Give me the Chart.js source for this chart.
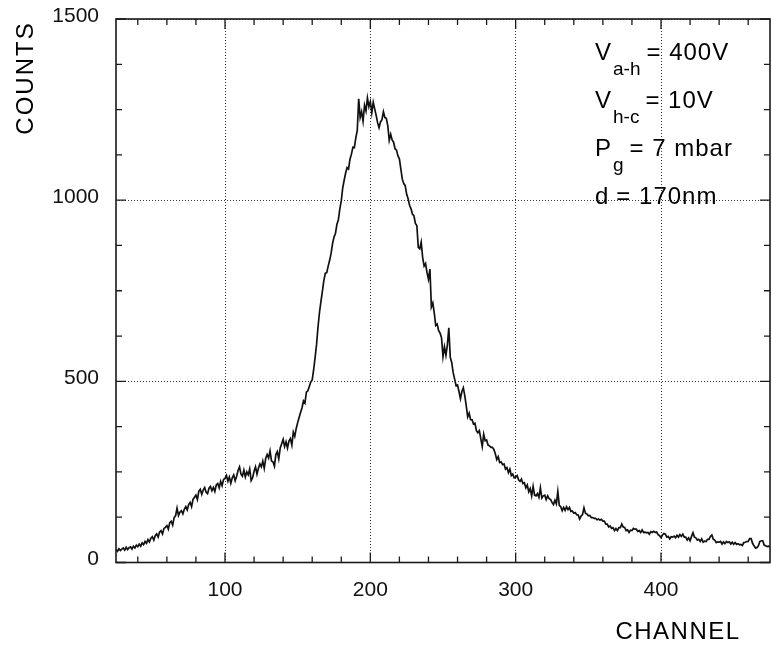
<!DOCTYPE html>
<html>
<head>
<meta charset="utf-8">
<script src="https://cdn.jsdelivr.net/npm/chart.js@4.4.1/dist/chart.umd.min.js"></script>
<style>
  html, body { margin: 0; padding: 0; background: #fff; }
  #wrap { width: 772px; height: 650px; }
</style>
</head>
<body>
<div id="wrap"><canvas id="espectro" width="772" height="650"></canvas></div>
<script>
const primerCanal = 25;
const cuentas = [
  36, 31, 38, 33, 37, 40, 34, 42, 36, 41,
  43, 37, 45, 40, 48, 44, 51, 45, 54, 49,
  58, 53, 63, 57, 67, 71, 62, 74, 79, 70,
  84, 88, 79, 94, 97, 102, 92, 110, 114, 103,
  124, 129, 150, 130, 139, 143, 134, 147, 154, 145,
  160, 166, 154, 174, 180, 186, 174, 197, 202, 188,
  200, 207, 194, 190, 205, 210, 198, 207, 196, 214,
  218, 206, 224, 212, 229, 232, 240, 224, 236, 219,
  234, 242, 226, 238, 254, 264, 244, 238, 255, 236,
  250, 242, 258, 226, 234, 252, 264, 244, 260, 272,
  264, 280, 260, 287, 298, 288, 308, 280, 278, 266,
  298, 306, 286, 316, 328, 340, 320, 333, 316, 335,
  342, 324, 360, 348, 370, 386, 400, 414, 427, 446,
  440, 470, 474, 486, 498, 504, 532, 566, 602, 650,
  690, 720, 748, 778, 798, 800, 818, 834, 853, 880,
  898, 908, 933, 946, 975, 998, 1034, 1055, 1075, 1090,
  1086, 1113, 1127, 1146, 1145, 1172, 1192, 1280, 1228, 1244,
  1218, 1262, 1246, 1282, 1258, 1272, 1241, 1270, 1252, 1234,
  1214, 1200, 1216, 1222, 1244, 1228, 1226, 1206, 1165, 1182,
  1166, 1160, 1142, 1138, 1122, 1114, 1086, 1058, 1046, 1040,
  1016, 1004, 986, 976, 961, 957, 936, 930, 870, 866,
  884, 842, 818, 825, 800, 782, 810, 705, 716, 688,
  654, 658, 640, 633, 620, 568, 595, 572, 600, 648,
  566, 552, 524, 506, 488, 490, 472, 452, 472, 482,
  460, 432, 402, 412, 394, 394, 382, 384, 364, 358,
  364, 342, 320, 354, 336, 338, 324, 322, 318, 318,
  312, 300, 284, 292, 276, 278, 270, 272, 258, 262,
  248, 258, 240, 244, 234, 236, 240, 228, 224, 230,
  218, 220, 206, 214, 195, 204, 184, 210, 186, 184,
  190, 180, 206, 178, 184, 186, 174, 184, 176, 174,
  166, 160, 172, 162, 196, 158, 154, 143, 152, 144,
  154, 146, 152, 141, 142, 136, 138, 132, 131, 120,
  128, 132, 151, 136, 134, 129, 130, 124, 124, 122,
  122, 118, 120, 117, 119, 114, 114, 106, 106, 98,
  101, 94, 96, 88, 94, 88, 96, 96, 106, 98,
  97, 88, 90, 83, 89, 88, 94, 92, 92, 86,
  88, 83, 90, 83, 84, 82, 83, 78, 85, 83,
  86, 83, 84, 77, 74, 69, 76, 80, 78, 70,
  72, 65, 71, 70, 73, 68, 75, 70, 77, 72,
  78, 70, 70, 62, 68, 60, 72, 82, 70, 68,
  62, 64, 58, 65, 56, 59, 58, 64, 64, 72,
  76, 64, 62, 55, 57, 56, 58, 51, 57, 52,
  58, 55, 57, 51, 56, 50, 55, 50, 52, 49,
  50, 47, 55, 56, 58, 58, 66, 66, 53, 46,
  40, 41, 46, 58, 60, 60, 48, 46, 44, 45,
  43
];
const ticksX = [100, 200, 300, 400];
const ticksY = [0, 500, 1000, 1500];
const menoresX = [40, 60, 80, 120, 140, 160, 180, 220, 240, 260, 280, 320, 340, 360, 380, 420, 440, 460];
const menoresY = [125, 250, 375, 625, 750, 875, 1125, 1250, 1375];
const etiquetaX = 'CHANNEL';
const etiquetaY = 'COUNTS';
const anotaciones = [
  { base: 'V', sub: 'a-h', resto: '= 400V' },
  { base: 'V', sub: 'h-c', resto: '= 10V' },
  { base: 'P', sub: 'g', resto: '= 7 mbar' },
  { base: 'd', sub: '', resto: '= 170nm' }
];

const fuente = "'Liberation Sans', Arial, sans-serif";

const marco = {
  id: 'marco',
  afterDraw(chart) {
    const { ctx, chartArea: a, scales: { x, y } } = chart;
    ctx.save();
    ctx.strokeStyle = '#1a1a1a';
    ctx.lineWidth = 1.6;
    ctx.strokeRect(a.left, a.top, a.right - a.left, a.bottom - a.top);

    const marcaX = (v, largo) => {
      const px = x.getPixelForValue(v);
      ctx.beginPath();
      ctx.moveTo(px, a.bottom); ctx.lineTo(px, a.bottom - largo);
      ctx.moveTo(px, a.top); ctx.lineTo(px, a.top + largo);
      ctx.stroke();
    };
    const marcaY = (v, largo) => {
      const py = y.getPixelForValue(v);
      ctx.beginPath();
      ctx.moveTo(a.left, py); ctx.lineTo(a.left + largo, py);
      ctx.moveTo(a.right, py); ctx.lineTo(a.right - largo, py);
      ctx.stroke();
    };
    ctx.lineWidth = 1.3;
    ticksX.forEach(v => marcaX(v, 10));
    menoresX.forEach(v => marcaX(v, 6));
    ticksY.forEach(v => marcaY(v, 10));
    menoresY.forEach(v => marcaY(v, 6));

    ctx.fillStyle = '#000';
    ctx.font = `24px ${fuente}`;
    ctx.letterSpacing = '1.5px';
    ctx.textAlign = 'center';
    ctx.textBaseline = 'middle';
    ctx.fillText(etiquetaX, 678, 632);
    ctx.save();
    ctx.translate(26, 78);
    ctx.rotate(-Math.PI / 2);
    ctx.letterSpacing = '2px';
    ctx.fillText(etiquetaY, 0, 0);
    ctx.restore();

    ctx.textAlign = 'left';
    ctx.textBaseline = 'alphabetic';
    anotaciones.forEach((n, i) => {
      const base = 60 + i * 48;
      let cx = 595;
      ctx.letterSpacing = '1px';
      ctx.font = `24px ${fuente}`;
      ctx.fillText(n.base, cx, base);
      cx += ctx.measureText(n.base).width;
      if (n.sub) {
        ctx.letterSpacing = '0px';
        ctx.font = `19px ${fuente}`;
        ctx.fillText(n.sub, cx + 1, base + 15);
        cx += ctx.measureText(n.sub).width + 7;
      } else {
        cx += 7;
      }
      ctx.letterSpacing = '1px';
      ctx.font = `24px ${fuente}`;
      ctx.fillText(n.resto, cx, base);
    });
    ctx.restore();
  }
};

document.addEventListener('DOMContentLoaded', () => {
  const canvas = document.getElementById('espectro');
  new Chart(canvas, {
    type: 'line',
    data: {
      datasets: [{
        data: cuentas.map((c, i) => ({ x: primerCanal + i, y: c })),
        borderColor: '#111',
        borderWidth: 1.7,
        pointRadius: 0,
        tension: 0,
        fill: false
      }]
    },
    options: {
      responsive: false,
      animation: false,
      layout: { padding: { top: 19, right: 2, left: 0, bottom: 0 } },
      plugins: { legend: { display: false }, tooltip: { enabled: false } },
      scales: {
        x: {
          type: 'linear', min: 25, max: 475,
          afterBuildTicks: s => { s.ticks = ticksX.map(v => ({ value: v })); },
          afterFit: s => { s.height = 87.5; s.paddingLeft = 0; s.paddingRight = 0; },
          border: { display: false, dash: [1, 2] },
          grid: { color: '#333', lineWidth: 1, drawTicks: false },
          ticks: { color: '#111', padding: 15, maxRotation: 0, callback: v => String(v), font: { size: 21, family: fuente } }
        },
        y: {
          type: 'linear', min: 0, max: 1500,
          afterBuildTicks: s => { s.ticks = ticksY.map(v => ({ value: v })); },
          afterFit: s => { s.width = 116; s.paddingTop = 0; s.paddingBottom = 0; },
          border: { display: false, dash: [1, 2] },
          grid: { color: '#333', lineWidth: 1, drawTicks: false },
          ticks: { color: '#111', padding: 17, labelOffset: -3, callback: v => String(v), font: { size: 21, family: fuente } }
        }
      }
    },
    plugins: [marco]
  });
});
</script>
</body>
</html>
